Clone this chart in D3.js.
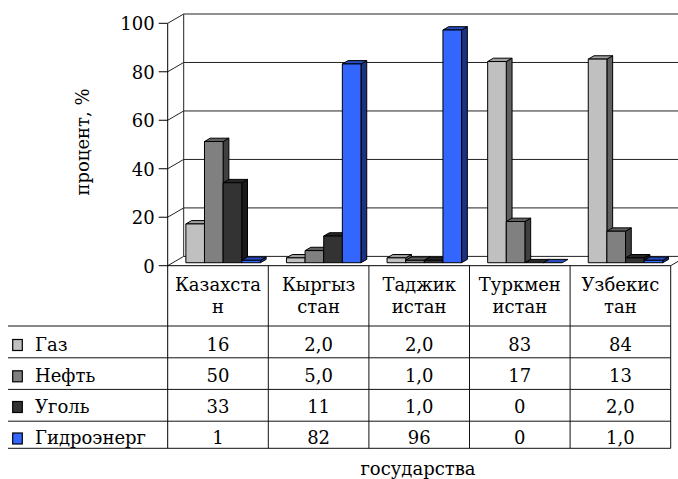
<!DOCTYPE html>
<html><head><meta charset="utf-8">
<script src="https://cdn.jsdelivr.net/npm/d3@7"></script>
<style>
body{margin:0;background:#fff}
svg{display:block}
</style></head><body>
<script>
// ---- data ----
const categories = ["Казахстан","Кыргызстан","Таджикистан","Туркменистан","Узбекистан"];
const categoryLines = [["Казахста","н"],["Кыргыз","стан"],["Таджик","истан"],["Туркмен","истан"],["Узбекис","тан"]];
const seriesNames = ["Газ","Нефть","Уголь","Гидроэнерг"];
const gas   = [16, 2, 2, 83, 84];
const oil   = [50, 5, 1, 17, 13];
const coal  = [33, 11, 1, 0, 2];
const hydro = [1, 82, 96, 0, 1];
const gasLabels   = ["16","2,0","2,0","83","84"];
const oilLabels   = ["50","5,0","1,0","17","13"];
const coalLabels  = ["33","11","1,0","0","2,0"];
const hydroLabels = ["1","82","96","0","1,0"];
const yTicks = [0,20,40,60,80,100];
const yTitle = "процент, %";
const xTitle = "государства";

const seriesValues = [gas, oil, coal, hydro];
const seriesLabels = [gasLabels, oilLabels, coalLabels, hydroLabels];
const faceColors = [
  {front:"#C0C0C0", side:"#606060", top:"#A0A0A0"},
  {front:"#808080", side:"#404040", top:"#606060"},
  {front:"#333333", side:"#1A1A1A", top:"#262626"},
  {front:"#3366FF", side:"#1A3380", top:"#264CBF"}
];

// ---- layout ----
const W = 678, H = 479;
const X0 = 167.7, X1 = 670.7;
const DX = 16, DY = -9.3;
const SX = 1.0;
const FONT = "DejaVu Serif";
const FS = "18px";
const y = d3.scaleLinear().domain([0,100]).range([265.7, 23.3]);
const xCat = d3.scaleBand().domain(categories).range([X0, X1]);
const bw = xCat.bandwidth() / 5.4;
const xSer = d3.scaleBand().domain(seriesNames).range([0.7*bw, 4.7*bw]);
const f0 = 0.32, f1 = 0.68;

const svg = d3.select("body").append("svg").attr("width", W).attr("height", H);

function stext(g, x, yy, str, anchor) {
  return g.append("text")
    .attr("transform", `translate(${x},${yy}) scale(${SX},1)`)
    .attr("text-anchor", anchor || "middle")
    .style("font-family", FONT)
    .style("font-size", FS)
    .attr("fill", "#000")
    .text(str);
}

// back wall and side wall gridlines
const walls = svg.append("g").attr("fill","none");
yTicks.forEach(v => {
  walls.append("line").attr("x1", X0+DX).attr("x2", X1+DX)
    .attr("y1", y(v)+DY).attr("y2", y(v)+DY).attr("stroke","#222");
  walls.append("line").attr("x1", X0).attr("x2", X0+DX)
    .attr("y1", y(v)).attr("y2", y(v)+DY).attr("stroke","#222");
});
walls.append("line").attr("x1", X0+DX).attr("x2", X0+DX)
  .attr("y1", y(100)+DY).attr("y2", y(0)+DY).attr("stroke","#222");
walls.append("line").attr("x1", X1).attr("x2", X1+DX)
  .attr("y1", y(0)).attr("y2", y(0)+DY).attr("stroke","#222");

// bars
const bars = svg.append("g").attr("stroke","#000").attr("stroke-width",1).attr("stroke-linejoin","round");
const ddx = (f1-f0)*DX, ddy = (f1-f0)*DY;
categories.forEach((c, ci) => {
  seriesNames.forEach((s, si) => {
    const v = seriesValues[si][ci];
    const X = xCat(c) + xSer(s) + f0*DX;
    const Yb = y(0) + f0*DY;
    const Yt = Yb - (y(0) - y(v));
    const col = faceColors[si];
    const pts = a => a.map(p => p.join(",")).join(" ");
    if (v > 0) {
      bars.append("polygon").attr("fill", col.side)
        .attr("points", pts([[X+bw,Yb],[X+bw,Yt],[X+bw+ddx,Yt+ddy],[X+bw+ddx,Yb+ddy]]));
    }
    bars.append("polygon").attr("fill", col.top)
      .attr("points", pts([[X,Yt],[X+bw,Yt],[X+bw+ddx,Yt+ddy],[X+ddx,Yt+ddy]]));
    if (v > 0) {
      bars.append("rect").attr("fill", col.front)
        .attr("x", X).attr("y", Yt).attr("width", bw).attr("height", Yb-Yt);
    }
  });
});

// front axis
const ax = svg.append("g");
ax.append("line").attr("x1", X0).attr("x2", X0).attr("y1", y(100)).attr("y2", 448.3).attr("stroke","#000");
yTicks.forEach(v => {
  ax.append("line").attr("x1", X0-9).attr("x2", X0).attr("y1", y(v)).attr("y2", y(v)).attr("stroke","#000");
  stext(ax, X0-13, y(v)+7, String(v), "end");
});

// y title
svg.append("text")
  .attr("transform", `translate(89,142) rotate(-90)`)
  .style("font-family", FONT).style("font-size",FS)
  .attr("text-anchor","middle").text(yTitle);

// table
const tb = svg.append("g");
const rowLines = [326, 357.8, 389.4, 421.2, 448.3];
const baselines = [350.5, 381.8, 412.5, 444];
tb.append("line").attr("x1", X0).attr("x2", X1).attr("y1", y(0)).attr("y2", y(0)).attr("stroke","#000");
rowLines.forEach(ry => {
  tb.append("line").attr("x1", 8).attr("x2", X1).attr("y1", ry).attr("y2", ry).attr("stroke","#111");
});
categories.forEach((c, ci) => {
  const xr = xCat(c) + xCat.bandwidth();
  tb.append("line").attr("x1", xr).attr("x2", xr).attr("y1", y(0)).attr("y2", 448.3).attr("stroke","#111");
  const cx = xCat(c) + xCat.bandwidth()/2;
  stext(tb, cx, 290.7, categoryLines[ci][0]);
  stext(tb, cx, 313.3, categoryLines[ci][1]);
  seriesNames.forEach((s, si) => {
    stext(tb, cx, baselines[si], seriesLabels[si][ci]);
  });
});
seriesNames.forEach((s, si) => {
  tb.append("rect").attr("x", 12.7).attr("y", baselines[si]-11).attr("width", 9.6).attr("height", 11)
    .attr("fill", faceColors[si].front).attr("stroke","#000").attr("stroke-width",1.2);
  stext(tb, 35, baselines[si], s, "start");
});

// x title
stext(svg, 418, 475, xTitle);
</script>
</body></html>
